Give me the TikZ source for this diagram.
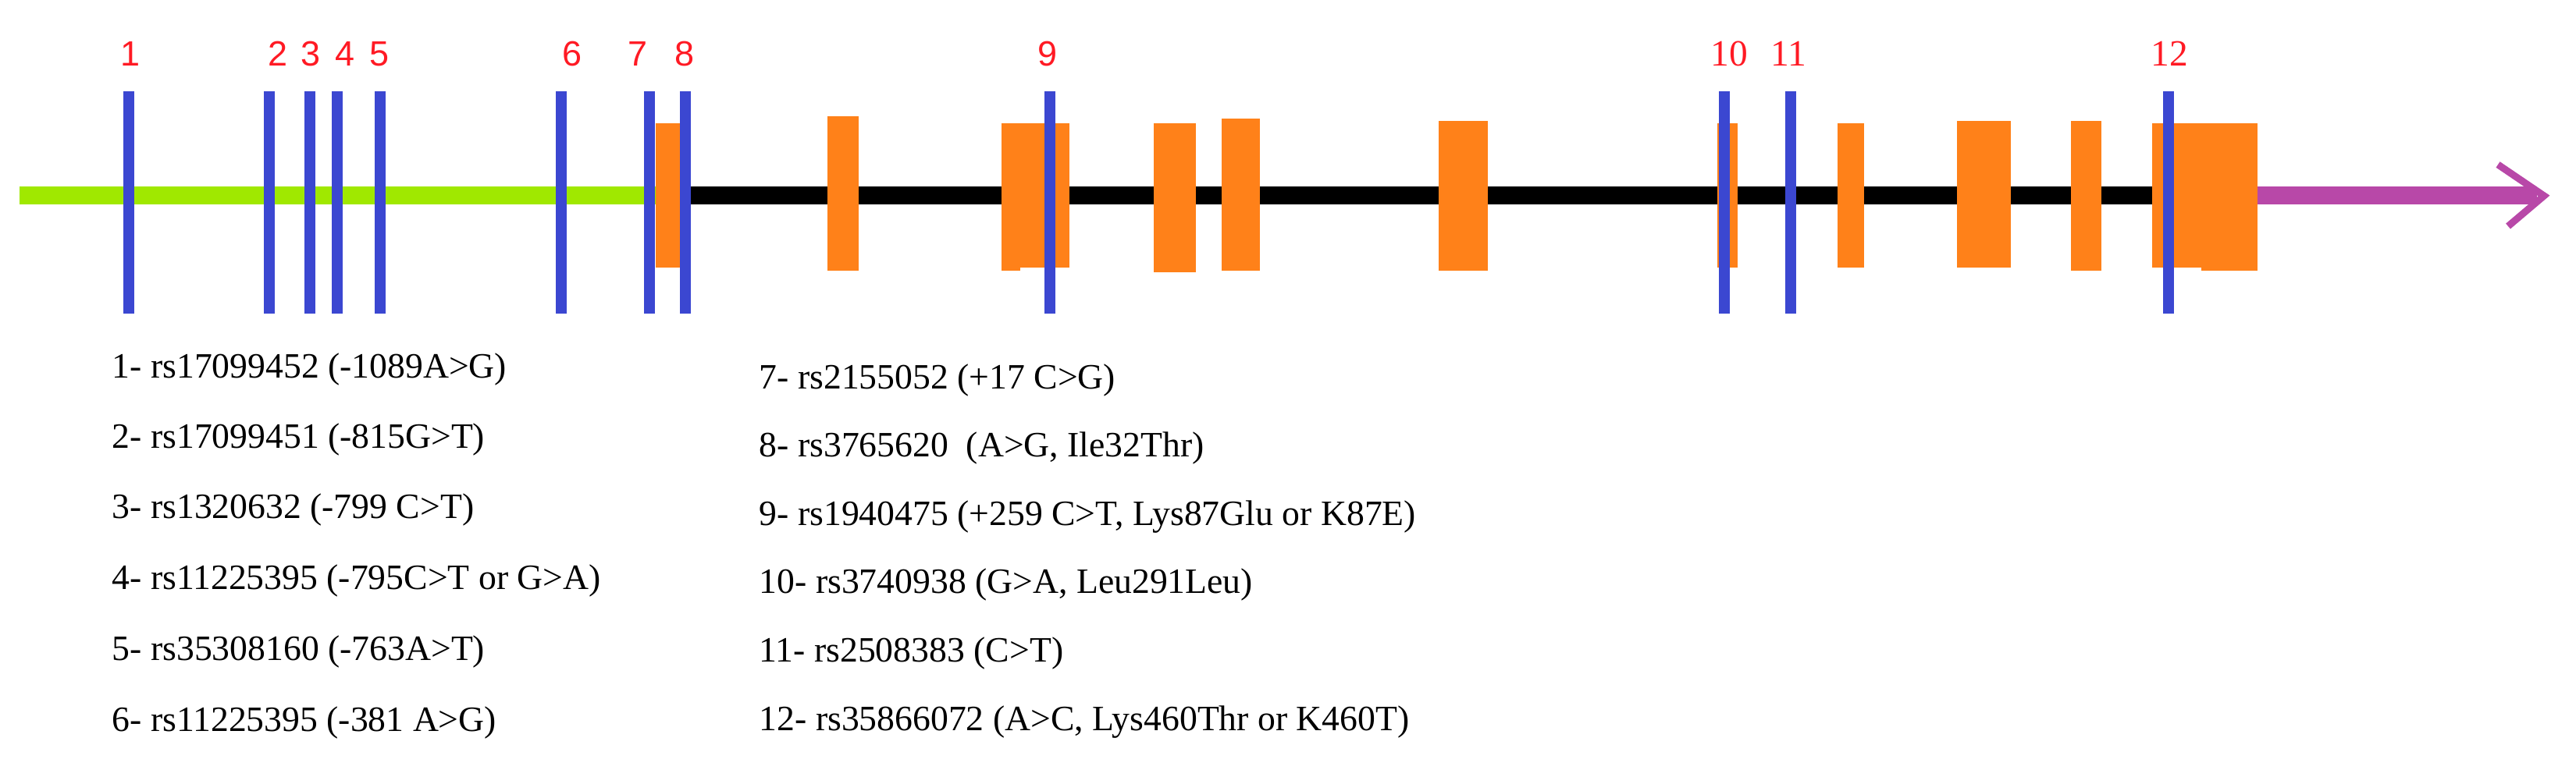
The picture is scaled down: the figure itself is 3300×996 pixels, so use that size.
\documentclass[tikz,border=0pt]{standalone}
\usepackage{fontspec}
\setmainfont{Liberation Serif}
\newfontfamily\lsans{Liberation Sans}
\definecolor{snpblue}{RGB}{59,71,209}
\definecolor{exon}{RGB}{255,129,25}
\definecolor{promo}{RGB}{160,232,0}
\definecolor{utr}{RGB}{184,72,168}
\definecolor{lab}{RGB}{255,26,36}
\begin{document}
\begin{tikzpicture}[x=0.1mm,y=-0.1mm,
  exonbox/.style={fill=exon},
  snpline/.style={draw=snpblue,line width=1.4mm},
  numlab/.style={text=lab,inner sep=0,anchor=base,font=\lsans\fontsize{12.8pt}{14pt}\selectfont},
  numlabser/.style={text=lab,inner sep=0,anchor=base,font=\fontsize{13.5pt}{15pt}\selectfont},
  legend/.style={inner sep=0,anchor=base west,font=\fontsize{13pt}{15pt}\selectfont}]
\useasboundingbox (0,0) rectangle (3300,996);
\fill[white] (0,0) rectangle (3300,996);
% backbone
\fill[promo] (25,239) rectangle (840,262);
\fill[black] (871,239) rectangle (2760,262);
\fill[utr] (2892,239) rectangle (3250,262);
\coordinate (tip) at (3259,251);
\coordinate (armA) at (3200,211);
\coordinate (armB) at (3213,290);
\draw[utr,line width=0.9mm] (armA) -- (tip) -- (armB);
% exons
\fill[exonbox] (840,158) rectangle (871,343);
\fill[exonbox] (1060,149) rectangle (1100,347);
\fill[exonbox] (1283,158) rectangle (1370,343);
\fill[exonbox] (1283,158) rectangle (1307,347);
\fill[exonbox] (1478,158) rectangle (1532,349);
\fill[exonbox] (1565,152) rectangle (1614,347);
\fill[exonbox] (1843,155) rectangle (1906,347);
\fill[exonbox] (2200,158) rectangle (2226,343);
\fill[exonbox] (2354,158) rectangle (2388,343);
\fill[exonbox] (2507,155) rectangle (2576,343);
\fill[exonbox] (2653,155) rectangle (2692,347);
\fill[exonbox] (2757,158) rectangle (2892,343);
\fill[exonbox] (2820,158) rectangle (2892,347);
% SNP lines
\foreach \i/\x in {1/165,2/345,3/397,4/432,5/487,6/719,7/832,8/878,9/1345,10/2209,11/2294,12/2778}{
  \coordinate (s\i t) at (\x,117);
  \coordinate (s\i b) at (\x,402);
  \draw[snpline] (s\i t) -- (s\i b);
}
% SNP numbers
\foreach \i/\x in {1/167,2/356,3/398,4/442,5/486,6/733,7/817,8/877,9/1342}{
  \node[numlab] (n\i) at (\x,85) {\i};
}
\foreach \i/\x in {10/2215,11/2291,12/2779}{
  \node[numlabser] (n\i) at (\x,85) {\i};
}
% legend
\node[legend] (l1) at (143,485) {1- rs17099452 (-1089A>G)};
\node[legend] (l2) at (143,575) {2- rs17099451 (-815G>T)};
\node[legend] (l3) at (143,665) {3- rs1320632 (-799 C>T)};
\node[legend] (l4) at (143,756) {4- rs11225395 (-795C>T or G>A)};
\node[legend] (l5) at (143,846) {5- rs35308160 (-763A>T)};
\node[legend] (l6) at (143,937) {6- rs11225395 (-381 A>G)};
\node[legend] (l7) at (972,499) {7- rs2155052 (+17 C>G)};
\node[legend] (l8) at (972,586) {8- rs3765620~ (A>G, Ile32Thr)};
\node[legend] (l9) at (972,674) {9- rs1940475 (+259 C>T, Lys87Glu or K87E)};
\node[legend] (l10) at (972,761) {10- rs3740938 (G>A, Leu291Leu)};
\node[legend] (l11) at (972,849) {11- rs2508383 (C>T)};
\node[legend] (l12) at (972,936) {12- rs35866072 (A>C, Lys460Thr or K460T)};
\end{tikzpicture}
\end{document}
